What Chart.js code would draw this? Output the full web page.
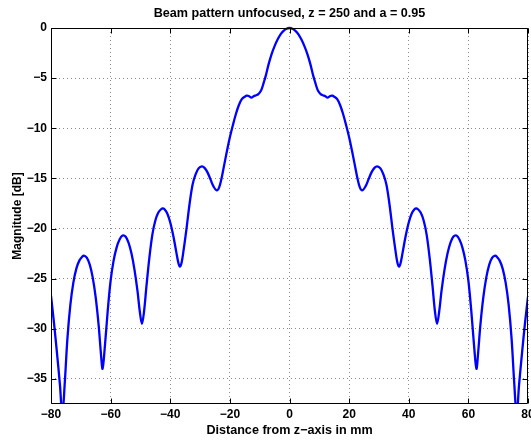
<!DOCTYPE html>
<html>
<head>
<meta charset="utf-8">
<script src="https://cdn.jsdelivr.net/npm/chart.js@4/dist/chart.umd.min.js"></script>
<style>
  html, body { margin: 0; padding: 0; background: #fff; }
  canvas { display: block; }
</style>
</head>
<body>
<canvas id="beamChart" width="531" height="443"></canvas>
<script>
// distance from z-axis (mm)
const distance = [
  -80, -79, -78, -77, -76.2, -75.4, -74.5, -73.5, -72.5, -71.5, -70.5, -69.5,
  -69, -68, -67, -66, -65, -64, -63.3, -62.7, -62, -61, -60,
  -59, -58, -57, -56, -55, -54, -53, -52, -51, -50.2, -49.5, -48.8,
  -48, -47, -46, -45, -44, -43, -42.5, -42, -41, -40, -39, -38,
  -37.3, -36.8, -36.2, -35.5, -34.5, -33.5, -32.5, -31.5, -30.5,
  -29.4, -28.5, -27.5, -26.5, -25.5, -24.4, -23.6, -22.8,
  -22, -21, -20, -19, -18, -17, -16, -15,
  -14.3, -13.5, -12.8, -12, -11.2, -10.5, -10, -9.4, -8.6, -8,
  -7, -6, -5, -4, -3, -2, -1, 0,
  1, 2, 3, 4, 5, 6, 7, 8, 8.6, 9.4, 10, 10.5, 11.2, 12, 12.8, 13.5, 14.3,
  15, 16, 17, 18, 19, 20, 21, 22, 22.8, 23.6, 24.4, 25.5, 26.5, 27.5, 28.5,
  29.4, 30.5, 31.5, 32.5, 33.5, 34.5, 35.5, 36.2, 36.8, 37.3, 38, 39, 40,
  41, 42, 42.5, 43, 44, 45, 46, 47, 48, 48.8, 49.5, 50.2, 51, 52, 53, 54,
  55, 56, 57, 58, 59, 60, 61, 62, 62.7, 63.3, 64, 65, 66, 67, 68, 69, 69.5,
  70.5, 71.5, 72.5, 73.5, 74.5, 75.4, 76.2, 77, 78, 79, 80
];

// magnitude in dB at each distance
const magnitude = [
  -26.7, -29.4, -32.4, -35.6, -38.6, -35.5, -31.0, -27.6, -25.4, -24.0, -23.2, -22.8,
  -22.7, -22.9, -23.6, -24.9, -26.9, -29.7, -32.3, -34.0, -32.0, -28.3, -25.2,
  -23.2, -21.9, -21.1, -20.7, -20.8, -21.4, -22.5, -24.1, -26.2, -28.3, -29.5, -28.3,
  -25.8, -22.9, -20.6, -19.2, -18.4, -18.05, -18.0, -18.05, -18.5, -19.4, -20.7, -22.3,
  -23.4, -23.8, -23.4, -22.1, -19.9, -17.5, -15.6, -14.6, -14.0,
  -13.8, -13.95, -14.4, -15.1, -15.8, -16.2, -15.9, -15.0,
  -13.8, -12.3, -10.9, -9.7, -8.6, -7.7, -7.1, -6.85,
  -6.75, -6.8, -6.95, -6.8, -6.7, -6.6, -6.45, -6.15, -5.4, -4.8,
  -3.6, -2.6, -1.8, -1.15, -0.63, -0.28, -0.07, 0,
  -0.07, -0.28, -0.63, -1.15, -1.8, -2.6, -3.6, -4.8, -5.4, -6.15, -6.45, -6.6, -6.7, -6.8, -6.95, -6.8, -6.75,
  -6.85, -7.1, -7.7, -8.6, -9.7, -10.9, -12.3, -13.8, -15.0, -15.9, -16.2, -15.8, -15.1, -14.4, -13.95,
  -13.8, -14.0, -14.6, -15.6, -17.5, -19.9, -22.1, -23.4, -23.8, -23.4, -22.3, -20.7, -19.4,
  -18.5, -18.05, -18.0, -18.05, -18.4, -19.2, -20.6, -22.9, -25.8, -28.3, -29.5, -28.3, -26.2, -24.1, -22.5, -21.4,
  -20.8, -20.7, -21.1, -21.9, -23.2, -25.2, -28.3, -32.0, -34.0, -32.3, -29.7, -26.9, -24.9, -23.6, -22.9, -22.7, -22.8,
  -23.2, -24.0, -25.4, -27.6, -31.0, -35.5, -38.6, -35.6, -32.4, -29.4, -26.8
];

const xTicks = [-80, -60, -40, -20, 0, 20, 40, 60, 80];
const yTicks = [0, -5, -10, -15, -20, -25, -30, -35];

const font = 'Liberation Sans, Arial, Helvetica, sans-serif';
const minus = v => String(v).replace('-', '\u2212');

// matlab style box with inward tick marks
const axesBox = {
  id: 'axesBox',
  afterDatasetsDraw(chart) {
    const { ctx, chartArea: a, scales } = chart;
    const left = Math.round(a.left) + 0.5;
    const right = Math.round(a.right) - 0.5;
    const top = Math.round(a.top) + 0.5;
    const bottom = Math.round(a.bottom) - 0.5;
    ctx.save();
    ctx.strokeStyle = '#000';
    ctx.lineWidth = 1;
    ctx.beginPath();
    ctx.rect(left, top, right - left, bottom - top);
    scales.x.ticks.forEach(t => {
      const px = Math.round(scales.x.getPixelForValue(t.value)) + 0.5;
      ctx.moveTo(px, bottom); ctx.lineTo(px, bottom - 5);
      ctx.moveTo(px, top); ctx.lineTo(px, top + 5);
    });
    scales.y.ticks.forEach(t => {
      const py = Math.round(scales.y.getPixelForValue(t.value)) + 0.5;
      ctx.moveTo(left, py); ctx.lineTo(left + 5, py);
      ctx.moveTo(right, py); ctx.lineTo(right - 5, py);
    });
    ctx.stroke();
    ctx.restore();
  }
};

const ctx = document.getElementById('beamChart').getContext('2d');
const beamChart = new Chart(ctx, {
  type: 'line',
  data: {
    datasets: [{
      label: 'Beam pattern',
      data: distance.map((d, i) => ({ x: d, y: magnitude[i] })),
      borderColor: '#0000ff',
      borderWidth: 2.3,
      pointRadius: 0,
      fill: false,
      tension: 0.35,
      clip: { left: 0, right: 0, top: 2, bottom: 0 }
    }]
  },
  options: {
    responsive: false,
    animation: false,
    layout: { padding: { left: 0, right: 3, top: 0, bottom: 0 } },
    plugins: {
      legend: { display: false },
      tooltip: { enabled: false },
      title: {
        display: true,
        fullSize: false,
        text: 'Beam pattern unfocused, z = 250 and a = 0.95',
        color: '#000',
        font: { family: font, size: 12.6, weight: 'bold' },
        padding: { top: 6, bottom: 6.9 }
      }
    },
    scales: {
      x: {
        type: 'linear',
        min: -80,
        max: 80,
        afterBuildTicks: s => { s.ticks = xTicks.map(v => ({ value: v })); },
        afterFit: s => { s.height = 39; s.paddingLeft = 0; s.paddingRight = 0; },
        grid: { color: 'rgba(0,0,0,0.45)', lineWidth: 1, drawTicks: false },
        border: { display: false, dash: [1, 3] },
        ticks: {
          color: '#000',
          padding: 3,
          maxRotation: 0,
          autoSkip: false,
          font: { family: font, size: 12, weight: 'bold' },
          callback: v => minus(v)
        },
        title: {
          display: true,
          text: 'Distance from z\u2212axis in mm',
          color: '#000',
          font: { family: font, size: 12.6, weight: 'bold' },
          padding: { top: 0, bottom: 5.4 }
        }
      },
      y: {
        type: 'linear',
        min: -37.5,
        max: 0,
        afterBuildTicks: s => { s.ticks = yTicks.map(v => ({ value: v })); },
        afterFit: s => { s.width = 51; s.paddingTop = 0; s.paddingBottom = 0; },
        grid: { color: 'rgba(0,0,0,0.45)', lineWidth: 1, drawTicks: false },
        border: { display: false, dash: [1, 3] },
        ticks: {
          color: '#000',
          padding: 4,
          autoSkip: false,
          font: { family: font, size: 12, weight: 'bold' },
          callback: v => minus(v)
        },
        title: {
          display: true,
          text: 'Magnitude [dB]',
          color: '#000',
          font: { family: font, size: 12, weight: 'bold' },
          padding: { top: 10, bottom: 0 }
        }
      }
    }
  },
  plugins: [axesBox]
});
</script>
</body>
</html>
